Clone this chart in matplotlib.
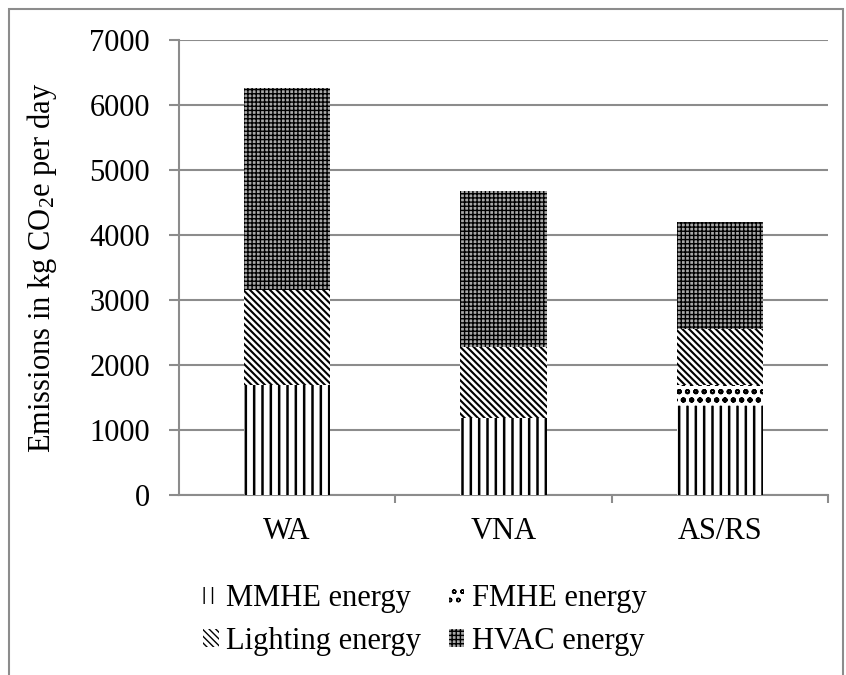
import matplotlib
matplotlib.use("Agg")
import matplotlib.pyplot as plt
from matplotlib.patches import Rectangle

plt.rcParams['font.family'] = ['Liberation Serif', 'DejaVu Serif']
plt.rcParams['mathtext.fontset'] = 'custom'
plt.rcParams['mathtext.rm'] = 'Liberation Serif'
plt.rcParams['mathtext.default'] = 'regular'

categories = ["WA", "VNA", "AS/RS"]
mmhe = [1700, 1180, 1370]
fmhe = [0, 0, 330]
lighting = [1450, 1100, 850]
hvac = [3110, 2400, 1650]
series_names = ["MMHE energy", "FMHE energy", "Lighting energy", "HVAC energy"]
yticks = [0, 1000, 2000, 3000, 4000, 5000, 6000, 7000]

FS = 22
fig = plt.figure(figsize=(8.46, 6.75), dpi=100)
fig.patches.append(Rectangle((9/846, -0.05), (843-9)/846, 1.05 - 9/675,
                             transform=fig.transFigure, fill=False,
                             edgecolor='#8c8c8c', linewidth=1.5))
ax = fig.add_axes([179/846, 1-495/675, (828-179)/846, (495-40)/675])

x = list(range(len(categories)))
w = 0.40
bottoms = [0]*3
styles = [
    (dict(facecolor='white', hatch='||', edgecolor='black'), 1.8),
    (dict(facecolor='white', hatch='oo', edgecolor='black'), 1.4),
    (dict(facecolor='white', hatch='\\\\\\\\\\', edgecolor='black'), 1.5),
    (dict(facecolor='#a8a8a8', hatch='++++', edgecolor='#000000'), 1.0),
]
handles = []
for vals, name, (st, hlw) in zip([mmhe, fmhe, lighting, hvac], series_names, styles):
    with plt.rc_context({'hatch.linewidth': hlw}):
        b = ax.bar(x, vals, w, bottom=bottoms, linewidth=0, label=name, zorder=3, **st)
    handles.append(b)
    bottoms = [bb + v for bb, v in zip(bottoms, vals)]

ax.set_xlim(-0.5, 2.5)
ax.set_ylim(0, 7000)
ax.set_yticks(yticks)
ax.set_yticklabels([str(t) for t in yticks], fontsize=FS)
ax.yaxis.grid(True, color='#8c8c8c', linewidth=1.5, zorder=0)
ax.set_axisbelow(True)
ax.set_xticks(x)
ax.set_xticklabels(categories, fontsize=FS)
ax.set_xticks([0.5, 1.5, 2.5], minor=True)
ax.tick_params(axis='x', which='major', length=0, pad=16)
ax.tick_params(axis='x', which='minor', length=6, color='#8c8c8c', width=1.5)
ax.tick_params(axis='y', length=7, color='#8c8c8c', width=1.5, pad=14)
for s in ['top', 'right']:
    ax.spines[s].set_visible(False)
for s in ['left', 'bottom']:
    ax.spines[s].set_color('#8c8c8c')
    ax.spines[s].set_linewidth(1.5)
ax.set_ylabel("Emissions in kg CO$_2$e per day", fontsize=FS, labelpad=22)

order = [0, 2, 1, 3]
fig.legend([handles[i] for i in order], [series_names[i] for i in order],
           ncol=2, loc='center', bbox_to_anchor=(425/846, 1-620/675),
           frameon=False, fontsize=FS, handlelength=0.5, handleheight=0.5,
           handletextpad=0.25, columnspacing=0.9, labelspacing=0.45)

fig.savefig("out.png", dpi=100)
